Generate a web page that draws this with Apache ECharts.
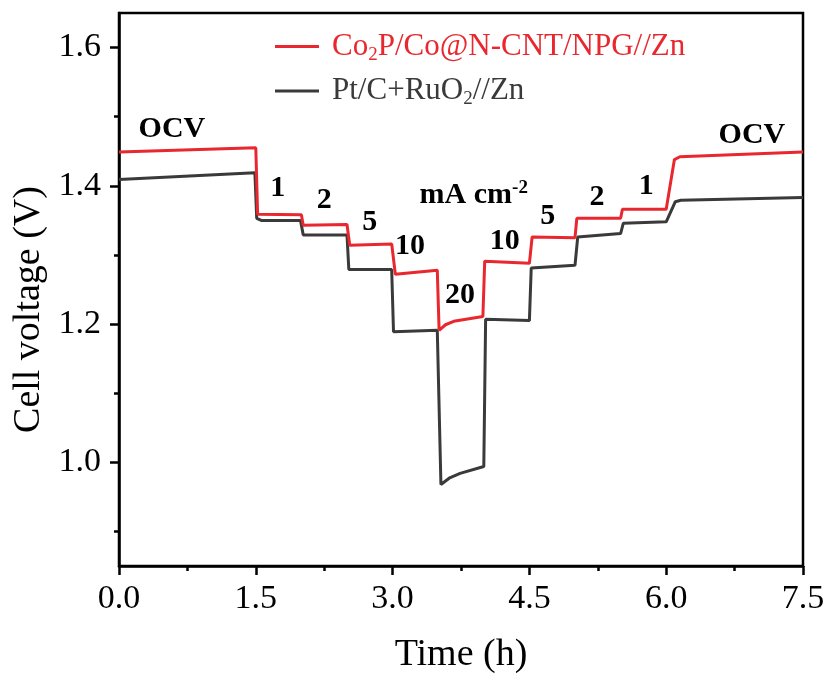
<!DOCTYPE html>
<html>
<head>
<meta charset="utf-8">
<script src="https://cdn.jsdelivr.net/npm/echarts@6/dist/echarts.min.js"></script>
<style>html,body{margin:0;padding:0;background:#fff;}#c{width:830px;height:682px;}</style>
</head>
<body>
<div id="c"></div>
<script>
// Co2P/Co@N-CNT/NPG//Zn
var redTime = [0, 1.50, 1.52, 2.00, 2.02, 2.50, 2.53, 2.99, 3.03, 3.49, 3.51, 3.58, 3.67, 3.99, 4.01, 4.50, 4.53, 5.00, 5.02, 5.50, 5.52, 6.00, 6.09, 6.15, 7.5];
var redVolt = [1.449, 1.455, 1.359, 1.358, 1.343, 1.344, 1.314, 1.316, 1.272, 1.278, 1.191, 1.199, 1.204, 1.211, 1.291, 1.288, 1.326, 1.325, 1.353, 1.353, 1.366, 1.366, 1.438, 1.442, 1.449];
// Pt/C+RuO2//Zn
var blackTime = [0, 1.49, 1.51, 1.56, 1.99, 2.02, 2.50, 2.52, 2.99, 3.01, 3.49, 3.53, 3.62, 3.74, 4.00, 4.02, 4.50, 4.52, 5.00, 5.03, 5.50, 5.53, 6.00, 6.10, 6.16, 7.5];
var blackVolt = [1.409, 1.419, 1.353, 1.350, 1.350, 1.329, 1.329, 1.279, 1.279, 1.189, 1.191, 0.968, 0.977, 0.984, 0.994, 1.207, 1.205, 1.281, 1.285, 1.326, 1.331, 1.346, 1.348, 1.377, 1.379, 1.383];

var seriesNames = ['Co2P/Co@N-CNT/NPG//Zn', 'Pt/C+RuO2//Zn'];
var xTicks = [0, 1.5, 3.0, 4.5, 6.0, 7.5];
var yTicks = [1.0, 1.2, 1.4, 1.6];
var yMinorTicks = [0.9, 1.1, 1.3, 1.5];

// annotations (data coordinates)
var annText = ['OCV', '1', '2', '5', '10', 'mA cm-2', '20', '10', '5', '2', '1', 'OCV'];
var annX = [0.58, 1.74, 2.25, 2.75, 3.19, 3.89, 3.74, 4.23, 4.70, 5.24, 5.78, 6.94];
var annY = [1.482, 1.397, 1.379, 1.348, 1.313, 1.387, 1.242, 1.320, 1.356, 1.384, 1.400, 1.473];

function zip(a, b) { return a.map(function (v, i) { return [v, b[i]]; }); }

var FONT = '"Liberation Serif", "Times New Roman", serif';
var RED = '#e8282e';
var DARK = '#3a3a3a';

var chart = echarts.init(document.getElementById('c'), null, { renderer: 'canvas' });

var annData = annText.map(function (t, i) {
  return { coord: [annX[i], annY[i]], value: t, name: t };
});

function legendFmt(name) {
  if (name === seriesNames[0]) return '{g|}{n|Co}{s|2}{n|P/Co@N-CNT/NPG//Zn}';
  return '{g|}{n|Pt/C+RuO}{s|2}{n|//Zn}';
}
function legendRich(color) {
  return {
    g: { width: 8 },
    n: { color: color, fontSize: 31, fontFamily: FONT, lineHeight: 36 },
    s: { color: color, fontSize: 19, fontFamily: FONT, verticalAlign: 'bottom', lineHeight: 22 }
  };
}

var option = {
  backgroundColor: '#fff',
  animation: false,
  grid: { left: 119, top: 13, right: 27, bottom: 116, show: true, borderColor: '#000', borderWidth: 2.5, backgroundColor: 'transparent' },
  legend: {
    orient: 'vertical',
    left: 270,
    top: 26,
    itemWidth: 44,
    itemHeight: 3,
    itemGap: 11,
    icon: 'rect',
    selectedMode: false,
    formatter: legendFmt,
    data: [
      { name: seriesNames[0], itemStyle: { color: RED }, textStyle: { color: RED, rich: legendRich(RED) } },
      { name: seriesNames[1], itemStyle: { color: DARK }, textStyle: { color: DARK, rich: legendRich(DARK) } }
    ],
    textStyle: { fontFamily: FONT, fontSize: 31 }
  },
  xAxis: {
    type: 'value',
    min: 0, max: 7.5, interval: 1.5,
    name: 'Time (h)',
    nameLocation: 'middle',
    nameGap: 70,
    nameTextStyle: { fontFamily: FONT, fontSize: 38, color: '#000' },
    axisLine: { show: true, lineStyle: { color: '#000', width: 2.5 } },
    axisTick: { show: true, inside: false, length: 9, lineStyle: { color: '#000', width: 2.5 } },
    minorTick: { show: true, splitNumber: 2, length: 5, lineStyle: { color: '#000', width: 2.5 } },
    splitLine: { show: false },
    minorSplitLine: { show: false },
    axisLabel: { fontFamily: FONT, fontSize: 34, color: '#000', margin: 16, formatter: function (v) { return v.toFixed(1); } }
  },
  yAxis: [
    {
      type: 'value',
      min: 0.85, max: 1.65,
      name: 'Cell voltage (V)',
      nameLocation: 'middle',
      nameGap: 64,
      nameTextStyle: { fontFamily: FONT, fontSize: 38, color: '#000', padding: [0, 40, 0, 0] },
      axisLine: { show: true, lineStyle: { color: '#000', width: 2.5 } },
      axisTick: { show: true, inside: false, length: 9, customValues: yTicks, lineStyle: { color: '#000', width: 2.5 } },
      splitLine: { show: false },
      axisLabel: { fontFamily: FONT, fontSize: 34, color: '#000', margin: 18, customValues: yTicks, formatter: function (v) { return v.toFixed(1); } }
    },
    {
      type: 'value',
      min: 0.85, max: 1.65,
      position: 'left',
      axisLine: { show: false },
      axisTick: { show: true, inside: false, length: 5, customValues: yMinorTicks, lineStyle: { color: '#000', width: 2.5 } },
      splitLine: { show: false },
      axisLabel: { show: false, customValues: yMinorTicks }
    }
  ],
  series: [
    {
      name: seriesNames[0],
      type: 'line',
      data: zip(redTime, redVolt),
      showSymbol: false,
      symbol: 'none',
      lineStyle: { color: RED, width: 3 },
      itemStyle: { color: RED },
      z: 3,
      markPoint: {
        symbol: 'circle',
        symbolSize: 0,
        itemStyle: { color: 'transparent' },
        label: {
          show: true,
          position: 'inside',
          color: '#000',
          fontFamily: FONT,
          fontWeight: 'bold',
          fontSize: 30,
          formatter: function (p) {
            if (p.name === 'mA cm-2') return '{b|mA cm}{sup|-2}';
            return '{b|' + p.name + '}';
          },
          rich: {
            b: { fontFamily: FONT, fontWeight: 'bold', fontSize: 30, color: '#000', lineHeight: 32 },
            sup: { fontFamily: FONT, fontWeight: 'bold', fontSize: 19, color: '#000', verticalAlign: 'top', lineHeight: 20 }
          }
        },
        data: annData
      }
    },
    {
      name: seriesNames[1],
      type: 'line',
      data: zip(blackTime, blackVolt),
      showSymbol: false,
      symbol: 'none',
      lineStyle: { color: DARK, width: 3 },
      itemStyle: { color: DARK },
      z: 2
    }
  ]
};
chart.setOption(option);
</script>
</body>
</html>
